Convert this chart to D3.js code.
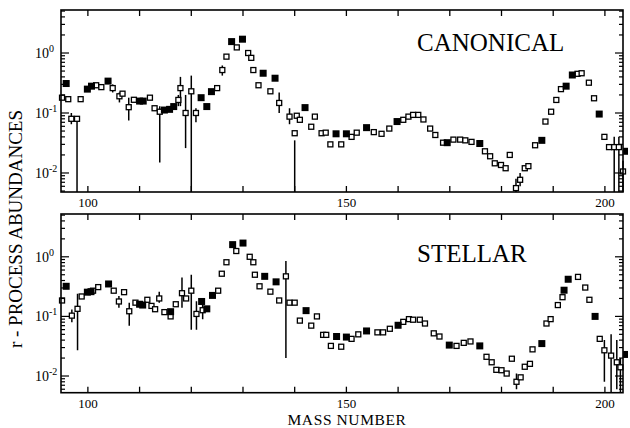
<!DOCTYPE html>
<html><head><meta charset="utf-8">
<script src="https://cdn.jsdelivr.net/npm/d3@7"></script>
<style>body{margin:0;background:#fff}svg{display:block}</style>
</head><body><svg id="c" width="630" height="428"></svg>
<script>
// ---------- DATA ----------
const xTickValues = [100, 150, 200];
const yTickExponents = [0, -1, -2];
const panelLabels = ["CANONICAL", "STELLAR"];

// Canonical panel
const canonFilledA = [95.8,99.9,100.7,103.9,110,110.7,114.8,115.8,116.6,121.9,123,123.9,127.8,129.9,133.9,136.2,142,148,150,153.9,159.8,169.5,175.8,187.8,192.5,193.7,198.9,204.2];
const canonFilledV = [0.31,0.25,0.28,0.34,0.158,0.158,0.112,0.115,0.128,0.18,0.128,0.227,1.55,1.7,0.46,0.38,0.123,0.045,0.045,0.057,0.072,0.032,0.031,0.035,0.28,0.43,0.096,0.023];
const canonOpenA = [95,96.2,96.8,97.9,98.6,101.6,102.6,104.8,106.1,106.7,107.9,108.9,112,112.9,113.9,117.5,117.9,118.9,120,120.9,125,126,126.8,128.8,131,131.6,132,133,135.3,137,139,140,140.4,141,143.2,143.9,145.2,146,146.9,149,151,152,155.3,156.8,158.3,161,162,162.9,163.9,164.9,166.2,167.2,168.7,170.7,172,173,174.2,176.8,177.8,178.7,179.9,180.8,181.6,182.8,183.6,184.5,185.2,186.5,188.5,189.6,190.6,191.5,194.7,195.5,196.9,197.9,199.9,200.8,201.8,202.7,203.5];
const canonOpenV = [0.18,0.17,0.08,0.08,0.17,0.29,0.27,0.26,0.19,0.21,0.125,0.166,0.18,0.12,0.105,0.165,0.26,0.1,0.23,0.1,0.26,0.52,0.87,1.24,1.0,0.83,0.52,0.29,0.23,0.147,0.087,0.046,0.09,0.077,0.059,0.087,0.046,0.047,0.03,0.03,0.04,0.047,0.048,0.045,0.055,0.077,0.087,0.093,0.093,0.078,0.055,0.043,0.032,0.036,0.036,0.035,0.033,0.023,0.019,0.0145,0.0136,0.012,0.02,0.0056,0.0077,0.012,0.013,0.029,0.072,0.105,0.165,0.25,0.45,0.46,0.32,0.176,0.04,0.027,0.027,0.027,0.0106];
const canonErrA  = [96.8,97.9,104.8,106.1,107.9,113.9,117.5,117.9,118.9,120,120.9,126,137,139,140,182.8,183.6,201.8,202.7,203.5];
const canonErrLo = [0.065,0.004,0.22,0.15,0.075,0.015,0.13,0.13,0.026,0.004,0.07,0.42,0.1,0.065,0.004,0.004,0.006,0.004,0.004,0.004];
const canonErrHi = [0.1,0.085,0.3,0.22,0.18,0.13,0.2,0.4,0.2,0.42,0.12,0.62,0.22,0.12,0.035,0.008,0.01,0.04,0.04,0.016];

// Stellar panel
const stellFilledA = [95.8,99.9,100.6,104,110,110.6,116,122,123,124.1,128,130,134.2,136.4,142.2,148.1,150,153.9,160,169.9,175.8,187.8,192.1,192.9,198.1,204.2];
const stellFilledV = [0.32,0.255,0.26,0.35,0.16,0.155,0.12,0.178,0.134,0.225,1.6,1.7,0.47,0.38,0.125,0.046,0.045,0.057,0.071,0.033,0.032,0.035,0.275,0.42,0.1,0.023];
const stellOpenA = [95,96.9,98,98.8,101,102,105,106,107,108,109.2,111.5,112.3,113,113.8,114.8,116,117,118.2,119,120,121,122.2,125.2,125.9,126.8,128.7,131.3,132,132.3,133.2,135.3,137,138.3,139,140,141,143.2,144.3,145.5,146.1,147,149,151,152.3,156,157.1,158.4,161,162.1,162.9,164.2,165.2,166.9,168,171.3,172.7,174,177.1,178.1,179,180,181,182,182.9,183.7,184.5,185.5,186,188.7,189.5,190.9,191.8,194.8,196.2,197,199,199.9,201.2,202.3,203];
const stellOpenV = [0.185,0.103,0.134,0.216,0.27,0.31,0.27,0.178,0.255,0.122,0.17,0.19,0.15,0.132,0.2,0.118,0.1,0.16,0.245,0.2,0.27,0.11,0.127,0.27,0.52,0.81,1.25,1.0,0.81,0.5,0.32,0.26,0.185,0.47,0.17,0.17,0.085,0.07,0.1,0.049,0.049,0.032,0.031,0.042,0.05,0.054,0.054,0.062,0.081,0.09,0.088,0.088,0.076,0.052,0.046,0.032,0.036,0.038,0.021,0.017,0.0127,0.0125,0.011,0.0195,0.008,0.0095,0.0143,0.016,0.028,0.076,0.09,0.155,0.21,0.46,0.305,0.19,0.042,0.027,0.022,0.017,0.014];
const stellErrA  = [96.9,98,106,108,113.8,118.2,120,121,122.2,138.3,182.9,199.9,201.2,202.3,203];
const stellErrLo = [0.08,0.027,0.14,0.07,0.17,0.14,0.06,0.06,0.09,0.02,0.006,0.008,0.005,0.006,0.005];
const stellErrHi = [0.13,0.24,0.22,0.17,0.26,0.45,0.5,0.18,0.17,0.85,0.011,0.04,0.05,0.04,0.02];

// ---------- DRAW ----------
const svg = d3.select("#c");
const FONT = "'Liberation Serif','Times New Roman',serif";
const x = d3.scaleLinear().domain([94.8, 203.5]).range([61, 623]);

function panel(top, bottom, yDom, label, labelY, fA, fV, oA, oV, eA, eLo, eHi) {
  const y = d3.scaleLog().domain(yDom).range([bottom, top]);
  const g = svg.append("g");
  const clip = "clip" + top;
  svg.append("clipPath").attr("id", clip).append("rect")
    .attr("x", 58).attr("y", top).attr("width", 570).attr("height", bottom - top);
  const d = g.append("g").attr("clip-path", `url(#${clip})`);

  d.selectAll("line.err").data(eA).join("line")
    .attr("x1", a => x(a)).attr("x2", a => x(a))
    .attr("y1", (a, i) => y(eHi[i])).attr("y2", (a, i) => y(eLo[i]))
    .attr("stroke", "#000").attr("stroke-width", 1.5);
  const s = 5;
  d.selectAll("rect.open").data(oA).join("rect")
    .attr("x", a => x(a) - s / 2).attr("y", (a, i) => y(oV[i]) - s / 2)
    .attr("width", s).attr("height", s)
    .attr("fill", "#fff").attr("stroke", "#000").attr("stroke-width", 1.3);
  const f = 7;
  d.selectAll("rect.filled").data(fA).join("rect")
    .attr("x", a => x(a) - f / 2).attr("y", (a, i) => y(fV[i]) - f / 2)
    .attr("width", f).attr("height", f).attr("fill", "#000");

  g.append("rect").attr("x", 61).attr("y", top).attr("width", 562).attr("height", bottom - top)
    .attr("fill", "none").attr("stroke", "#000").attr("stroke-width", 1.6);

  const xt = d3.range(100, 204, 10);
  g.selectAll("line.xb").data(xt).join("line")
    .attr("x1", v => x(v)).attr("x2", v => x(v)).attr("y1", bottom).attr("y2", bottom - 6)
    .attr("stroke", "#000").attr("stroke-width", 1.3);
  g.selectAll("line.xt").data(xt).join("line")
    .attr("x1", v => x(v)).attr("x2", v => x(v)).attr("y1", top).attr("y2", top + 6)
    .attr("stroke", "#000").attr("stroke-width", 1.3);
  g.selectAll("text.xl").data(xTickValues).join("text")
    .attr("x", v => x(v)).attr("y", bottom + 15).attr("text-anchor", "middle")
    .attr("font-family", FONT).attr("font-size", 13).text(v => v);

  const yt = [];
  for (let e = -3; e <= 0; e++) for (let m = 1; m <= 9; m++) {
    const v = m * Math.pow(10, e);
    if (v >= yDom[0] && v <= yDom[1]) yt.push({ v, major: m === 1 });
  }
  g.selectAll("line.yl").data(yt).join("line")
    .attr("x1", 61).attr("x2", t => 61 + (t.major ? 8 : 4))
    .attr("y1", t => y(t.v)).attr("y2", t => y(t.v)).attr("stroke", "#000").attr("stroke-width", 1.2);
  g.selectAll("line.yr").data(yt).join("line")
    .attr("x1", 623).attr("x2", t => 623 - (t.major ? 8 : 4))
    .attr("y1", t => y(t.v)).attr("y2", t => y(t.v)).attr("stroke", "#000").attr("stroke-width", 1.2);
  const yl = g.selectAll("text.yl").data(yTickExponents).join("text")
    .attr("x", 35).attr("y", e => y(Math.pow(10, e)) + 5)
    .attr("font-family", FONT).attr("font-size", 14);
  yl.append("tspan").text("10");
  yl.append("tspan").attr("dy", -6).attr("font-size", 10).text(e => e);

  g.append("text").attr("x", 417).attr("y", labelY)
    .attr("font-family", FONT).attr("font-size", 25).text(label);
}

panel(10, 192, [Math.pow(10, -2.317), Math.pow(10, 0.717)], panelLabels[0], 51,
  canonFilledA, canonFilledV, canonOpenA, canonOpenV, canonErrA, canonErrLo, canonErrHi);
panel(214, 392.7, [Math.pow(10, -2.28), Math.pow(10, 0.718)], panelLabels[1], 262,
  stellFilledA, stellFilledV, stellOpenA, stellOpenV, stellErrA, stellErrLo, stellErrHi);

svg.append("text").attr("transform", "translate(22,229) rotate(-90)")
  .attr("text-anchor", "middle").attr("font-family", FONT).attr("font-size", 19)
  .text("r - PROCESS  ABUNDANCES");
svg.append("text").attr("x", 347).attr("y", 424.5).attr("text-anchor", "middle")
  .attr("font-family", FONT).attr("font-size", 15.5).attr("letter-spacing", 0.6).text("MASS  NUMBER");
</script></body></html>
